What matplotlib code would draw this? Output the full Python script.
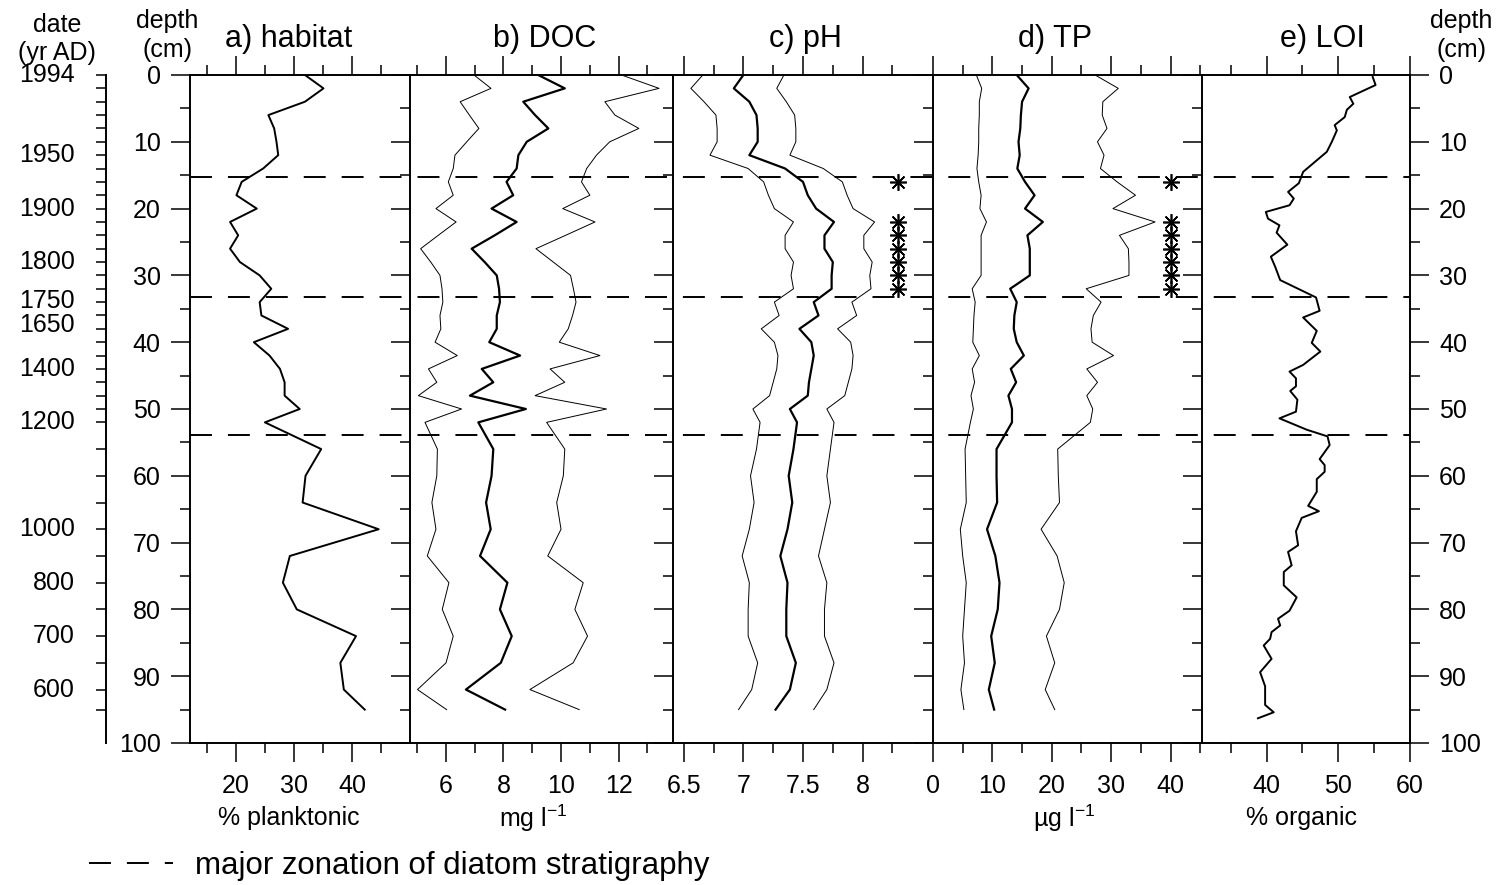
import matplotlib
matplotlib.use("Agg")
import matplotlib.pyplot as plt
from matplotlib.lines import Line2D
from matplotlib.ticker import FixedLocator, FuncFormatter
from matplotlib.transforms import blended_transform_factory

plt.rcParams['font.family'] = ['Liberation Sans', 'DejaVu Sans']
plt.rcParams['mathtext.fontset'] = 'custom'
plt.rcParams['mathtext.rm'] = 'Liberation Sans'
plt.rcParams['lines.scale_dashes'] = False

# sample depths (cm) for habitat, DOC, pH, TP
depth = [0, 2, 4, 6, 8, 10, 12, 14, 16, 18, 20, 22, 24, 26, 28, 30, 32, 34, 36,
         38, 40, 42, 44, 46, 48, 50, 52, 56, 60, 64, 68, 72, 76, 80, 84, 88, 92, 95]

habitat = [31.9, 35.1, 31.9, 25.6, 26.6, 27.0, 27.3, 24.7, 21.0, 20.1, 23.6, 19.0, 20.4,
           19.0, 20.7, 24.1, 26.1, 24.1, 24.4, 29.0, 23.1, 25.8, 27.6, 28.4, 28.4, 31.0,
           25.0, 34.7, 32.0, 31.5, 44.6, 29.3, 28.1, 30.5, 40.7, 38.0, 38.6, 42.2]

doc = [9.21, 10.13, 8.69, 9.10, 9.56, 8.81, 8.52, 8.46, 8.11, 8.34, 7.59, 8.46, 7.70,
       6.90, 7.35, 7.77, 7.85, 7.88, 7.77, 7.77, 7.51, 8.58, 7.25, 7.65, 6.84, 8.78,
       7.13, 7.65, 7.59, 7.40, 7.56, 7.19, 8.14, 7.88, 8.29, 7.91, 6.70, 8.06]
doc_lo = [6.98, 7.57, 6.50, 6.82, 7.15, 6.73, 6.32, 6.26, 6.09, 6.26, 5.66, 6.36, 5.74,
          5.13, 5.48, 5.80, 5.87, 5.90, 5.80, 5.83, 5.63, 6.40, 5.40, 5.69, 5.05, 6.55,
          5.28, 5.71, 5.69, 5.52, 5.66, 5.36, 6.11, 5.88, 6.26, 6.01, 5.02, 6.03]
doc_hi = [12.10, 13.40, 11.52, 11.87, 12.70, 11.69, 11.23, 10.89, 10.71, 11.00, 10.06,
          11.18, 10.16, 9.13, 9.73, 10.33, 10.43, 10.52, 10.40, 10.25, 9.94, 11.35, 9.62,
          10.13, 9.10, 11.58, 9.50, 10.13, 10.08, 9.85, 10.00, 9.54, 10.77, 10.48, 10.92,
          10.42, 8.92, 10.63]

ph = [7.00, 6.92, 7.05, 7.11, 7.12, 7.12, 7.05, 7.35, 7.50, 7.54, 7.61, 7.76, 7.68,
      7.68, 7.75, 7.74, 7.74, 7.59, 7.63, 7.47, 7.57, 7.59, 7.57, 7.55, 7.54, 7.39,
      7.45, 7.42, 7.38, 7.41, 7.37, 7.31, 7.37, 7.36, 7.36, 7.44, 7.39, 7.27]
ph_lo = [6.66, 6.56, 6.67, 6.77, 6.78, 6.78, 6.72, 7.04, 7.17, 7.21, 7.26, 7.42, 7.35,
         7.35, 7.42, 7.40, 7.42, 7.26, 7.30, 7.15, 7.26, 7.29, 7.28, 7.25, 7.22, 7.08,
         7.14, 7.11, 7.06, 7.09, 7.05, 6.99, 7.05, 7.04, 7.04, 7.12, 7.07, 6.96]
ph_hi = [7.34, 7.28, 7.36, 7.43, 7.44, 7.44, 7.39, 7.67, 7.83, 7.87, 7.92, 8.10, 8.01,
         8.01, 8.08, 8.06, 8.07, 7.91, 7.95, 7.79, 7.90, 7.92, 7.91, 7.88, 7.85, 7.70,
         7.76, 7.73, 7.70, 7.73, 7.68, 7.63, 7.70, 7.68, 7.68, 7.76, 7.70, 7.59]

tp = [14.1, 16.1, 15.0, 14.8, 14.7, 14.4, 14.6, 14.2, 15.5, 17.1, 15.5, 18.5, 15.9,
      16.3, 16.3, 16.3, 13.0, 14.1, 13.7, 13.6, 14.1, 15.3, 13.1, 14.0, 12.7, 13.3,
      13.3, 10.7, 10.7, 10.8, 9.1, 10.5, 11.2, 10.9, 9.8, 10.4, 9.4, 10.3]
tp_lo = [7.3, 8.2, 7.8, 7.8, 7.7, 7.7, 7.6, 7.4, 7.7, 8.1, 7.9, 9.0, 8.1, 8.1, 8.1, 8.1,
         6.6, 7.1, 6.9, 6.8, 6.7, 7.8, 6.6, 7.0, 6.4, 6.8, 6.3, 5.4, 5.5, 5.6, 4.6, 5.0,
         5.6, 5.3, 5.0, 5.3, 4.7, 5.2]
tp_hi = [27.3, 31.2, 28.6, 28.5, 29.3, 27.7, 28.8, 28.2, 31.0, 34.1, 30.3, 37.4, 31.4,
         32.9, 33.0, 33.0, 25.8, 28.3, 27.0, 26.6, 26.8, 30.4, 25.9, 27.7, 25.9, 26.9,
         26.5, 21.0, 21.1, 21.3, 18.2, 20.9, 22.1, 21.3, 19.1, 20.5, 18.9, 20.5]

# LOI is sampled at ~1 cm
loi_depth = [0.3, 1.5, 3.3, 4.3, 5.2, 6.3, 7.5, 8.3, 10.0, 11.5, 14.5, 16.2, 17.5, 18.5,
             19.5, 20.5, 21.5, 22.5, 23.6, 25.4, 27.2, 28.7, 30.7, 33.3, 35.3, 36.3, 38.3,
             40.1, 41.4, 43.4, 44.4, 45.4, 46.6, 47.3, 48.6, 50.4, 51.4, 53.1, 54.1, 55.4,
             57.5, 58.4, 59.4, 60.5, 62.4, 64.5, 65.3, 66.3, 68.3, 70.4, 71.4, 73.4, 74.4,
             76.4, 78.2, 80.2, 81.4, 82.4, 83.4, 84.4, 85.4, 87.4, 89.4, 91.5, 94.3, 95.4,
             96.3]
loi = [54.8, 55.2, 51.6, 52.1, 51.2, 50.9, 49.5, 49.8, 49.1, 48.4, 45.1, 44.5, 43.0, 43.8,
       43.2, 39.9, 40.2, 41.8, 41.4, 42.9, 40.6, 41.2, 41.9, 46.9, 47.4, 45.1, 47.0, 46.3,
       47.5, 45.1, 43.2, 44.1, 44.1, 43.3, 44.3, 44.1, 41.8, 45.6, 48.5, 48.8, 47.4, 48.1,
       48.1, 47.0, 47.0, 45.8, 47.3, 44.9, 44.1, 44.4, 43.0, 43.5, 42.4, 42.4, 44.2, 43.2,
       41.6, 41.9, 40.7, 40.5, 39.6, 40.7, 39.1, 39.8, 39.8, 41.0, 38.8]

zone_depths = [15.2, 33.2, 53.9]
star_depths = [16, 22, 24, 26, 28, 30, 32]
ph_star = 8.3
tp_star = 40

date_labels = ['1994', '1950', '1900', '1800', '1750', '1650', '1400', '1200',
               '1000', '800', '700', '600']
date_depths = [0, 12, 20, 28, 33.8, 37.4, 44, 52, 68, 76, 84, 92]

W, H = 1503, 885
fig = plt.figure(figsize=(W / 100, H / 100), dpi=100)


def fx(px):
    return px / W


def fy(py):
    return 1 - py / H


top, bot = 75, 743
panels = [
    # x0, x1, xlim, major, minor, title, title x, xlabel, xlabel x
    (190, 410, (12.1, 50), [20, 30, 40], [15, 25, 35, 45], 'a) habitat', 289, '% planktonic', 289),
    (410, 674, (4.76, 13.92), [6, 8, 10, 12], [5, 7, 9, 11, 13], 'b) DOC', 545, 'mg l$^{-1}$', 533),
    (673, 933, (6.41, 8.59), [6.5, 7, 7.5, 8], [6.75, 7.25, 7.75, 8.25], 'c) pH', 805, None, None),
    (933, 1202, (0, 45.3), [0, 10, 20, 30, 40], [5, 15, 25, 35, 45], 'd) TP', 1055, 'µg l$^{-1}$', 1064),
    (1202, 1410, (31, 60), [40, 50, 60], [35, 45, 55], 'e) LOI', 1322, '% organic', 1302),
]

fs_tick = 18
lw_spine = 1.4
axes = []
for i, (x0, x1, xlim, major, minor, title, tx, xlabel, lx) in enumerate(panels):
    ax = fig.add_axes([fx(x0), fy(bot), fx(x1) - fx(x0), (bot - top) / H])
    ax.set_xlim(*xlim)
    ax.set_ylim(100, 0)
    ax.xaxis.set_major_locator(FixedLocator(major))
    ax.xaxis.set_minor_locator(FixedLocator(minor))
    ax.xaxis.set_major_formatter(FuncFormatter(lambda v, p: f'{v:g}'))
    ax.yaxis.set_major_locator(FixedLocator(range(0, 101, 10)))
    ax.yaxis.set_minor_locator(FixedLocator(range(5, 100, 10)))
    ax.tick_params(which='both', direction='out', width=1.1, top=True, bottom=True,
                   labeltop=False, labelbottom=True, left=True, labelleft=(i == 0),
                   right=(i == 4), labelright=(i == 4), labelsize=fs_tick)
    ax.tick_params(which='major', length=14)
    ax.tick_params(which='minor', length=7)
    ax.tick_params(axis='x', pad=8)
    ax.tick_params(axis='y', pad=7)
    for s in ax.spines.values():
        s.set_linewidth(lw_spine)
    if i != 4:
        ax.spines['right'].set_visible(False)
    ax.patch.set_alpha(0)
    fig.text(fx(tx), fy(47), title, ha='center', va='baseline', fontsize=22)
    if xlabel:
        fig.text(fx(lx), fy(818), xlabel, ha='center', va='center', fontsize=18)
    axes.append(ax)

ax_a, ax_b, ax_c, ax_d, ax_e = axes

thick, thin = 1.6, 0.7
ax_a.plot(habitat, depth, color='black', lw=1.4)
ax_b.plot(doc_lo, depth, color='black', lw=thin)
ax_b.plot(doc, depth, color='black', lw=thick)
ax_b.plot(doc_hi, depth, color='black', lw=thin)
ax_c.plot(ph_lo, depth, color='black', lw=thin)
ax_c.plot(ph, depth, color='black', lw=thick)
ax_c.plot(ph_hi, depth, color='black', lw=thin)
ax_d.plot(tp_lo, depth, color='black', lw=thin)
ax_d.plot(tp, depth, color='black', lw=thick)
ax_d.plot(tp_hi, depth, color='black', lw=thin)
ax_e.plot(loi, loi_depth, color='black', lw=1.4)

star = (8, 2, 0)
ax_c.plot([ph_star] * len(star_depths), star_depths, ls='none', marker=star,
          ms=12, mec='black', mew=1.2)
ax_d.plot([tp_star] * len(star_depths), star_depths, ls='none', marker=star,
          ms=12, mec='black', mew=1.2)

# dashed zonation lines across all panels
dash = (0, (15.8, 11.5))
ov = fig.add_axes([fx(190), fy(bot), fx(1410) - fx(190), (bot - top) / H])
ov.set_ylim(100, 0)
ov.set_xlim(0, 1)
ov.axis('off')
for z in zone_depths:
    ov.axhline(z, color='black', lw=1.4, ls=dash)

# date axis
ad = fig.add_axes([fx(105.6), fy(bot), 0.0005, (bot - top) / H])
ad.set_ylim(100, 0)
for k in ['top', 'bottom', 'right']:
    ad.spines[k].set_visible(False)
ad.spines['left'].set_linewidth(lw_spine)
ad.set_xticks([])
ad.set_yticks(depth)
ad.tick_params(axis='y', direction='out', length=7, width=1.1, labelleft=False)
tr = blended_transform_factory(fig.transFigure, ad.transData)
for lab, d in zip(date_labels, date_depths):
    ad.text(fx(75), d, lab, transform=tr, ha='right', va='center', fontsize=fs_tick)

# header labels
fig.text(fx(57), fy(32), 'date', ha='center', va='baseline', fontsize=18)
fig.text(fx(57), fy(60), '(yr AD)', ha='center', va='baseline', fontsize=18)
for hx in (167, 1461):
    fig.text(fx(hx), fy(28), 'depth', ha='center', va='baseline', fontsize=18)
    fig.text(fx(hx), fy(57), '(cm)', ha='center', va='baseline', fontsize=18)

# legend
handle = Line2D([], [], color='black', lw=1.4, ls=dash)
fig.legend(handles=[handle], labels=['major zonation of diatom stratigraphy'],
           loc='center left', bbox_to_anchor=(fx(89), fy(866)), frameon=False,
           fontsize=22.5, handlelength=2.7, handletextpad=0.7, borderpad=0,
           borderaxespad=0)

fig.savefig('out.png', dpi=100)
